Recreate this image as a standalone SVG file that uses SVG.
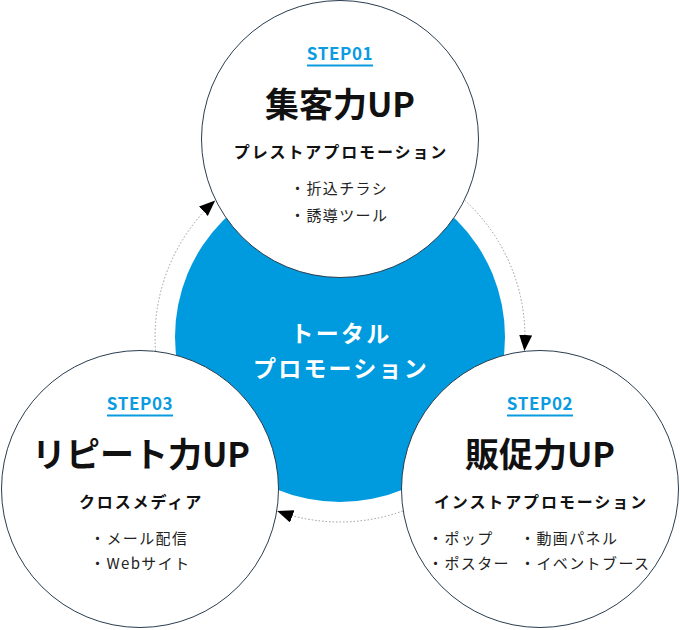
<svg xmlns="http://www.w3.org/2000/svg" width="680" height="630" viewBox="0 0 680 630">
<style>
text{font-family:"Noto Sans CJK JP","Noto Sans",sans-serif;}
.step{fill:#0a9be0;font-weight:700;font-size:17px;letter-spacing:0.6px;text-anchor:middle;}
.title{fill:#111;font-weight:700;font-size:34px;text-anchor:middle;}
.sub{fill:#111;font-weight:700;font-size:16px;letter-spacing:1.9px;text-anchor:middle;}
.item{fill:#222;font-size:15px;letter-spacing:1.4px;}
.center{fill:#fff;font-weight:700;font-size:23px;letter-spacing:2.2px;text-anchor:middle;}
.circ{fill:#fff;stroke:#2a3d4f;stroke-width:1;}
.arc{fill:none;stroke:#999;stroke-width:1;stroke-dasharray:1.5 2;}
</style>
<defs>
<marker id="ah" markerUnits="userSpaceOnUse" markerWidth="17" markerHeight="14" refX="16" refY="6.5" orient="auto">
<path d="M0,0 L16,6.5 L0,13 z" fill="#000"/>
</marker>
</defs>
<g id="center">
<circle cx="340" cy="337" r="165" fill="#009ade"/>
<text class="center" x="341" y="342">トータル</text>
<text class="center" x="341" y="377">プロモーション</text>
</g>
<g id="step01">
<circle class="circ" cx="340" cy="139" r="138.5"/>
<text class="step" x="340" y="60">STEP01</text>
<rect x="307" y="64.5" width="66" height="2" fill="#0a9be0"/>
<text class="title" x="340" y="117">集客力UP</text>
<text class="sub" x="341" y="158">プレストアプロモーション</text>
<text class="item" x="290" y="194">・折込チラシ</text>
<text class="item" x="290" y="221">・誘導ツール</text>
</g>
<g id="step02">
<circle class="circ" cx="540" cy="489" r="138.5"/>
<text class="step" x="540" y="410">STEP02</text>
<rect x="507" y="414.5" width="66" height="2" fill="#0a9be0"/>
<text class="title" x="540" y="467">販促力UP</text>
<text class="sub" x="541" y="508">インストアプロモーション</text>
<text class="item" x="428" y="544">・ポップ</text>
<text class="item" x="428" y="569">・ポスター</text>
<text class="item" x="520" y="544">・動画パネル</text>
<text class="item" x="520" y="569">・イベントブース</text>
</g>
<g id="step03">
<circle class="circ" cx="140" cy="489" r="138.5"/>
<text class="step" x="140" y="410">STEP03</text>
<rect x="107" y="414.5" width="66" height="2" fill="#0a9be0"/>
<text class="title" x="141" y="467">リピート力UP</text>
<text class="sub" x="141" y="508">クロスメディア</text>
<text class="item" x="90" y="544">・メール配信</text>
<text class="item" x="90" y="569">・Webサイト</text>
</g>
<g id="connectors">
<path class="arc" d="M464.8,200.4 A185,185 0 0 1 524.4,351" marker-end="url(#ah)"/>
<path class="arc" d="M402.8,511 A185,185 0 0 1 277.2,511" marker-end="url(#ah)"/>
<path class="arc" d="M155.6,351 A185,185 0 0 1 215.2,200.4" marker-end="url(#ah)"/>
</g>
</svg>
